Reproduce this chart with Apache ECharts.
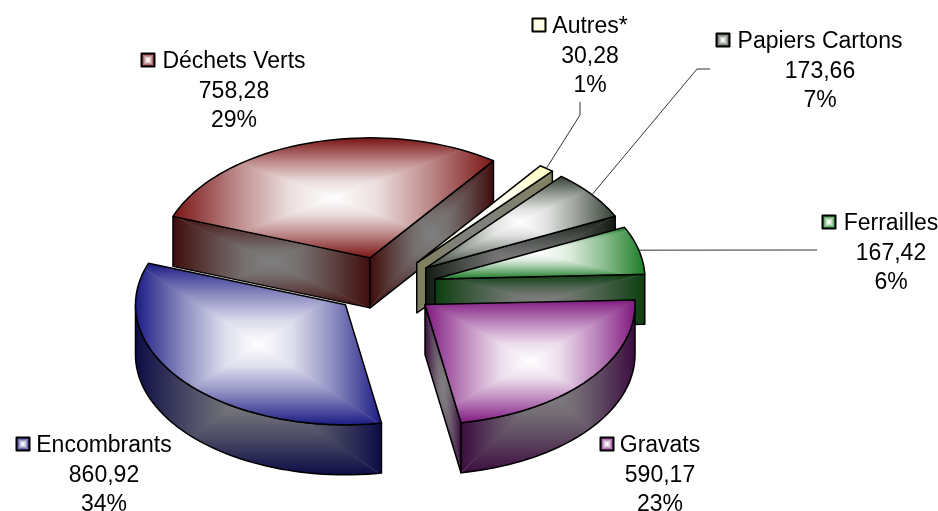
<!DOCTYPE html>
<html>
<head>
<meta charset="utf-8">
<script src="https://cdn.jsdelivr.net/npm/echarts@6/dist/echarts.min.js"></script>
<style>
html, body { margin: 0; padding: 0; background: #fff; }
#main { width: 938px; height: 511px; }
</style>
</head>
<body>
<div id="main"></div>
<script>
// slices, clockwise from the start angle
const categories = ['Autres*', 'Papiers Cartons', 'Ferrailles', 'Gravats', 'Encombrants', 'Déchets Verts'];
const values = [30.28, 173.66, 167.42, 590.17, 860.92, 758.28];
const valueLabels = ['30,28', '173,66', '167,42', '590,17', '860,92', '758,28'];
const percentLabels = ['1%', '7%', '6%', '23%', '34%', '29%'];

// back to front
const drawOrder = [5, 0, 1, 2, 4, 3];

const topColors = [[255, 255, 190], [50, 62, 50], [28, 125, 38], [128, 26, 128], [28, 28, 132], [122, 20, 20]];
const wallColors = [[128, 128, 92], [18, 26, 18], [12, 62, 15], [60, 13, 64], [12, 12, 70], [64, 12, 12]];
const WHITE = [255, 255, 255], GREY = [128, 128, 128];

// text centre x, first line y, key x, leader elbow
const labelLayout = [
  { x: 590, y: 25, keyX: 539, leader: [[580, 102], [580, 115]] },
  { x: 820, y: 40, keyX: 723, leader: [[710, 69], [697, 69]] },
  { x: 891, y: 222, keyX: 829, leader: [[817, 250], [803, 250]] },
  { x: 660, y: 444, keyX: 607 },
  { x: 104, y: 444, keyX: 23 },
  { x: 234, y: 60, keyX: 148 }
];

const CX = 385, CY = 286, RX = 210, RY = 120, DEPTH = 50, EXPLODE = 0.245;
const START_ANGLE = 36;
const LINE_H = 29.5;
const TEXT_DY = 2;

const total = values.reduce((a, b) => a + b, 0);
const angles = [];
let acc = START_ANGLE;
values.forEach(v => {
  const span = v / total * 360;
  angles.push([acc, acc + span]);
  acc += span;
});

const rad = d => d * Math.PI / 180;
const rimPoint = (apex, deg) => [apex[0] + RX * Math.sin(rad(deg)), apex[1] - RY * Math.cos(rad(deg))];
const mix = (c1, c2, t) => 'rgb(' + c1.map((v, n) => Math.round(v + (c2[n] - v) * t)).join(',') + ')';

function apexOf(i) {
  const mid = rad((angles[i][0] + angles[i][1]) / 2);
  return [CX + EXPLODE * RX * Math.sin(mid), CY - EXPLODE * RY * Math.cos(mid)];
}

function arcPoints(apex, from, to) {
  const pts = [];
  const n = Math.max(2, Math.ceil((to - from) / 2));
  for (let k = 0; k <= n; k++) pts.push(rimPoint(apex, from + (to - from) * k / n));
  return pts;
}

// rectangular "path" gradient: four triangles, clipped to the shape
function boxFill(points, edge, centre) {
  const xs = points.map(p => p[0]), ys = points.map(p => p[1]);
  const x0 = Math.min(...xs), x1 = Math.max(...xs), y0 = Math.min(...ys), y1 = Math.max(...ys);
  const cx = (x0 + x1) / 2, cy = (y0 + y1) / 2;
  const o = 0.6;
  const stops = [
    { offset: 0, color: mix(edge, centre, 0) },
    { offset: 0.4, color: mix(edge, centre, 0.5) },
    { offset: 0.72, color: mix(edge, centre, 0.85) },
    { offset: 1, color: mix(edge, centre, 1) }
  ];
  const grad = (x, y, x2, y2) => ({ type: 'linear', global: true, x: x, y: y, x2: x2, y2: y2, colorStops: stops });
  const tri = (pts, fill) => ({ type: 'polygon', silent: true, shape: { points: pts }, style: { fill: fill } });
  return {
    type: 'group',
    silent: true,
    clipPath: { type: 'polygon', shape: { points: points } },
    children: [
      tri([[x0 - 1, y0 - 1], [x1 + 1, y0 - 1], [cx + o, cy + o], [cx - o, cy + o]], grad(cx, y0, cx, cy)),
      tri([[x0 - 1, y1 + 1], [x1 + 1, y1 + 1], [cx + o, cy - o], [cx - o, cy - o]], grad(cx, y1, cx, cy)),
      tri([[x0 - 1, y0 - 1], [x0 - 1, y1 + 1], [cx + o, cy + o], [cx + o, cy - o]], grad(x0, cy, cx, cy)),
      tri([[x1 + 1, y0 - 1], [x1 + 1, y1 + 1], [cx - o, cy + o], [cx - o, cy - o]], grad(x1, cy, cx, cy))
    ]
  };
}

function face(points, edge, centre, width) {
  return [
    boxFill(points, edge, centre),
    { type: 'polygon', silent: true, shape: { points: points }, style: { fill: 'none', stroke: '#000', lineWidth: width || 1.5, lineJoin: 'round' } }
  ];
}

const down = p => [p[0], p[1] + DEPTH];

function renderSlice(params, api) {
  const i = api.value(0);
  const [from, to] = angles[i];
  const apex = apexOf(i);
  const children = [];

  // a straight side shows when it turns towards the viewer
  const wall = deg => {
    const a = rimPoint(apex, deg);
    children.push(...face([apex, a, down(a), down(apex)], wallColors[i], GREY));
  };
  if (-Math.sin(rad(from)) > 0) wall(from);
  if (Math.sin(rad(to)) > 0) wall(to);

  // outer rim, front half of the ellipse only
  const r0 = Math.max(from, 90), r1 = Math.min(to, 270);
  if (r1 > r0) {
    const arc = arcPoints(apex, r0, r1);
    children.push(...face(arc.concat(arc.map(down).reverse()), wallColors[i], GREY));
  }

  children.push(...face([apex].concat(arcPoints(apex, from, to)), topColors[i], WHITE));
  return { type: 'group', children: children };
}

function renderLabel(params, api) {
  const i = api.value(0);
  const lay = labelLayout[i];
  const children = [];
  if (lay.leader) {
    const start = rimPoint(apexOf(i), (angles[i][0] + angles[i][1]) / 2);
    children.push({
      type: 'polyline', silent: true,
      shape: { points: lay.leader.concat([start]) },
      style: { fill: 'none', stroke: '#333', lineWidth: 1 }
    });
  }
  const k = 6.5;
  const square = [[lay.keyX - k, lay.y - k], [lay.keyX + k, lay.y - k], [lay.keyX + k, lay.y + k], [lay.keyX - k, lay.y + k]];
  children.push(...face(square, topColors[i], WHITE, 2));
  [categories[i], valueLabels[i], percentLabels[i]].forEach((t, n) => {
    children.push({
      type: 'text', silent: true,
      style: {
        text: t, x: lay.x, y: lay.y + TEXT_DY + n * LINE_H,
        fill: '#000', font: '23px "Liberation Sans", Arial, sans-serif',
        align: 'center', verticalAlign: 'middle'
      }
    });
  });
  return { type: 'group', children: children };
}

const chart = echarts.init(document.getElementById('main'), null, { renderer: 'canvas' });
chart.setOption({
  animation: false,
  backgroundColor: '#ffffff',
  series: [
    { type: 'custom', coordinateSystem: 'none', silent: true, data: drawOrder.map(i => [i, values[i]]), renderItem: renderSlice, z: 2 },
    { type: 'custom', coordinateSystem: 'none', silent: true, data: drawOrder.map(i => [i, values[i]]), renderItem: renderLabel, z: 3 }
  ]
});
</script>
</body>
</html>
